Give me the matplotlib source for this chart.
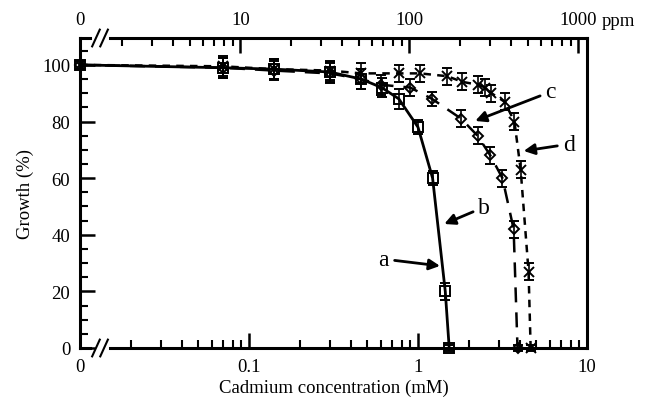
import numpy as np
import matplotlib.pyplot as plt
from matplotlib.ticker import FixedLocator, NullFormatter

plt.rcParams['font.family'] = ['Liberation Serif', 'DejaVu Serif']

# datos (0 mM se dibuja en 0.01, el inicio del eje roto)
conc_a = [0, 0.07, 0.14, 0.3, 0.46, 0.61, 0.77, 1.0, 1.22, 1.45, 1.53]
growth_a = [100, 99, 98.5, 97.5, 95, 92, 88, 78, 60, 20, 0]
err_a = [1.5, 3.5, 3.5, 3.5, 3.5, 3.5, 3.5, 2.5, 2.5, 3, 1]

conc_c = [0, 0.07, 0.14, 0.3, 0.46, 0.6, 0.9, 1.21, 1.8, 2.25, 2.68, 3.16, 3.68, 3.88]
growth_c = [100, 99, 98, 97, 95, 93, 92, 88, 81, 75, 68, 60, 42, 0]
err_c = [1.5, 3.5, 3.5, 3.5, 3.5, 3.5, 3, 2.5, 3, 3, 3, 3, 3, 1]

conc_d = [0, 0.07, 0.14, 0.3, 0.46, 0.77, 1.03, 1.49, 1.83, 2.27, 2.5, 2.72, 3.25, 3.72, 4.05, 4.51, 4.64]
growth_d = [100, 99.5, 98.5, 98, 97, 97, 97, 96, 94, 93, 92, 90, 87, 80, 63, 27, 0]
err_d = [1.5, 3.5, 3.5, 3.5, 3.5, 3, 3, 3, 3, 3, 3, 3, 3, 3, 3, 3, 1]

bottom_ticks = [0.01, 0.1, 1, 10]
bottom_labels = ['0', '0.1', '1', '10']
top_ticks = [1.1241, 10, 100, 1000]
top_labels = ['0', '10', '100', '1000']
MM_TO_PPM = 112.41


def xpos(c):
    c = np.asarray(c, dtype=float)
    return np.where(c == 0, 0.01, c)


fig = plt.figure(figsize=(6.48, 4.02), dpi=100)
ax = fig.add_axes([80 / 648, 1 - 349 / 402, 507 / 648, 310 / 402])
ax.set_xscale('log')
ax.set_xlim(0.01, 10)
ax.set_ylim(0, 109.5)

kw = dict(color='black', capsize=3.5, elinewidth=1.2, capthick=1.2,
          markeredgewidth=1.4, clip_on=False)
ax.errorbar(xpos(conc_a), growth_a, yerr=err_a, fmt='s', ls='-', lw=2,
            mfc='none', markersize=7, **kw)
ax.errorbar(xpos(conc_c), growth_c, yerr=err_c, fmt='D', ls=(0, (6, 4)), lw=1.8,
            mfc='none', markersize=5.5, **kw)
ax.errorbar(xpos(conc_d), growth_d, yerr=err_d, fmt='x', ls=(0, (3, 2.5)), lw=1.8,
            markersize=7, **kw)

# ejes
for s in ['top', 'bottom']:
    ax.spines[s].set_visible(False)
ax.spines['left'].set_linewidth(2.2)
ax.spines['right'].set_linewidth(2.2)
tr = ax.transAxes
for y in (0, 1):
    ax.plot([0, 0.02], [y, y], color='black', lw=2.2, transform=tr, clip_on=False)
    ax.plot([0.059, 1], [y, y], color='black', lw=2.2, transform=tr, clip_on=False)
    for x0 in (0.024, 0.04):
        ax.plot([x0, x0 + 0.015], [y - 0.027, y + 0.027], color='black', lw=1.5,
                transform=tr, clip_on=False)

ax.xaxis.set_major_locator(FixedLocator(bottom_ticks))
ax.set_xticklabels(bottom_labels)
minor_b = [m * d for d in (0.01, 0.1, 1) for m in range(2, 10)]
ax.xaxis.set_minor_locator(FixedLocator(minor_b))
ax.xaxis.set_minor_formatter(NullFormatter())
ax.set_yticks([0, 20, 40, 60, 80, 100])
ax.yaxis.set_minor_locator(FixedLocator(np.arange(0, 106, 5)))
ax.tick_params(which='major', direction='in', length=11, width=1.8,
               labelsize=13.5, pad=7)
ax.tick_params(which='minor', direction='in', length=6, width=1.5)
ax.tick_params(axis='y', right=False)

sec = ax.secondary_xaxis('top', functions=(lambda x: x * MM_TO_PPM,
                                           lambda x: x / MM_TO_PPM))
for s in sec.spines.values():
    s.set_visible(False)
sec.xaxis.set_major_locator(FixedLocator(top_ticks))
sec.set_xticklabels(top_labels)
minor_t = [m * d for d in (1, 10, 100) for m in range(2, 10)]
sec.xaxis.set_minor_locator(FixedLocator(minor_t))
sec.xaxis.set_minor_formatter(NullFormatter())
sec.tick_params(which='major', direction='in', length=11, width=1.8,
                labelsize=13.5, pad=7)
sec.tick_params(which='minor', direction='in', length=6, width=1.5)
ax.text(1.03, 1 + 18 / 310, 'ppm', transform=tr, fontsize=13.5, ha='left',
        va='center')

ax.set_xlabel('Cadmium concentration (mM)', fontsize=13.5, labelpad=3)
ax.set_ylabel('Growth (%)', fontsize=13.5, labelpad=6)

arrow = dict(arrowstyle='-|>', color='black', lw=2, mutation_scale=16,
             shrinkA=2, shrinkB=0)
ax.annotate('a', xy=(1.35, 29), xytext=(0.628, 31.4), fontsize=17,
            ha='center', va='center', arrowprops=arrow)
ax.annotate('b', xy=(1.43, 43.8), xytext=(2.47, 49.8), fontsize=17,
            ha='center', va='center', arrowprops=arrow)
ax.annotate('c', xy=(2.18, 80.2), xytext=(6.1, 90.5), fontsize=17,
            ha='center', va='center', arrowprops=arrow)
ax.annotate('d', xy=(4.22, 69.6), xytext=(7.8, 72), fontsize=17,
            ha='center', va='center', arrowprops=arrow)

fig.savefig('out.png', dpi=100)
